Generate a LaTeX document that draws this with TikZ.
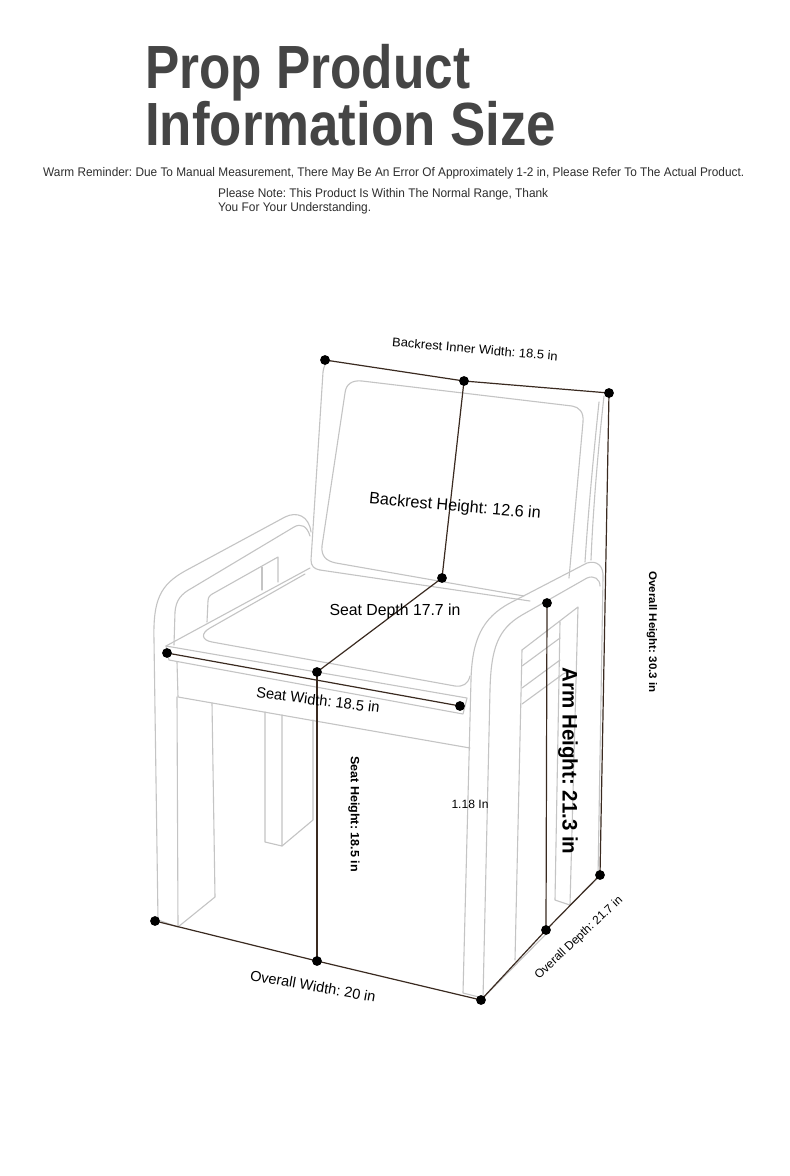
\documentclass[tikz,border=0pt]{standalone}
\usepackage{fontspec}
\setmainfont{Liberation Sans}
\usepackage{graphicx}
\frenchspacing
\definecolor{chgray}{HTML}{C4C4C4}
\definecolor{dimc}{HTML}{3A2A20}
\definecolor{titlec}{HTML}{454545}
\definecolor{subc}{HTML}{2E2E2E}
\newcommand{\fitw}[3]{{\fontsize{#2}{#2}\selectfont\resizebox{#1}{\height}{#3}}}
\tikzset{
  ch/.style={draw=chgray, line width=1.1pt, line join=round, line cap=round},
  dimline/.style={draw=dimc, line width=1.2pt},
  lbl/.style={inner sep=0pt, text=black},
}
\begin{document}
\begin{tikzpicture}[x=1pt,y=-1pt]
\useasboundingbox[fill=white] (0,0) rectangle (790,1176);

% ---------- title ----------
\node[anchor=base west, inner sep=0pt, text=titlec] (t1) at (145,88) {\fitw{325pt}{61pt}{\bfseries Prop Product}};
\node[anchor=base west, inner sep=0pt, text=titlec] (t2) at (145,145) {\fitw{411pt}{61pt}{\bfseries Information Size}};
\node[anchor=base west, inner sep=0pt, text=subc] (s1) at (43,176) {\fitw{701pt}{12.5pt}{Warm Reminder: Due To Manual Measurement, There May Be An Error Of Approximately 1-2 in, Please Refer To The Actual Product.}};
\node[anchor=base west, inner sep=0pt, text=subc] (s2) at (218,197.5) {\fitw{330pt}{12.5pt}{Please Note: This Product Is Within The Normal Range, Thank}};
\node[anchor=base west, inner sep=0pt, text=subc] (s3) at (218,211.5) {\fitw{153pt}{12.5pt}{You For Your Understanding.}};

% ---------- chair (gray outlines) ----------
% backrest outer frame
\draw[ch] (331,361) .. controls (325,362) and (324,366) .. (323,372) -- (311,560) .. controls (311,566) and (314,569) .. (320,570);
% backrest cushion
\draw[ch] (569,578) -- (583,422) .. controls (584,412) and (579,407) .. (572,406) -- (362,381) .. controls (352,380) and (346,384) .. (345,393) -- (322,546) .. controls (321,556) and (326,561) .. (336,563) -- (524,596);
% backrest right side thickness
\draw[ch] (604,396) .. controls (598,450) and (593,510) .. (591,560);
\draw[ch] (599,402) .. controls (593,460) and (588,515) .. (585,562);
% seat back edge
\draw[ch] (320,570) -- (530,601);
% left arm outer
\draw[ch] (158,920) -- (154,640) .. controls (153,600) and (160,585) .. (185,571) -- (285,517) .. controls (297,511) and (309,516) .. (311,532);
% left arm inner line
\draw[ch] (174,645) -- (175,612) .. controls (176,600) and (181,594) .. (192,588) -- (294,527) .. controls (301,523) and (307,526) .. (310,536);
% left arm inside face and slot
\draw[ch] (207,622) -- (208,601) .. controls (208,597) and (210,595) .. (214,593) -- (278,557) -- (278,582);
\draw[ch] (262,567) -- (262,590);
% seat board
\draw[ch] (166,646) -- (310,568);
\draw[ch] (166,646) -- (467,698) -- (463,714) -- (169,660) -- cycle;
% seat cushion
\draw[ch] (305,574) -- (210,628) .. controls (201,633) and (201,640) .. (212,642) -- (455,686) .. controls (463,687) and (468,684) .. (470,676);
% apron
\draw[ch] (177,662) -- (178,697) -- (470,748);
% left front leg
\draw[ch] (177,697) -- (178,927) -- (158,920);
\draw[ch] (178,927) -- (215,897) -- (212,703);
% left back leg
\draw[ch] (265,712) -- (265,842) -- (282,846) -- (282,715);
\draw[ch] (282,846) -- (313,820) -- (313,720);
% right arm panel outer / inner
\draw[ch] (598,878) -- (603,578) .. controls (604,566) and (597,560) .. (587,563) -- (510,603) .. controls (482,618) and (472,640) .. (471,680) -- (463,993) -- (483,998);
\draw[ch] (600,586) .. controls (600,579) and (594,575) .. (587,578) -- (522,615) .. controls (498,629) and (491,648) .. (490,690) -- (483,998);
% right arm opening and slats
\draw[ch] (522,650) -- (578,607) -- (570,905) -- (555,900) -- (560,622);
\draw[ch] (522,650) -- (515,960);
\draw[ch] (570,905) -- (598,878);
\draw[ch] (522,666) -- (560,638);
\draw[ch] (522,688) -- (560,660);
\draw[ch] (522,704) -- (563,674) .. controls (568,671) and (572,672) .. (575,676);
\draw[ch] (483,998) -- (546,934);

% ---------- dimension points ----------
\coordinate (A) at (325,360);
\coordinate (B) at (464,381);
\coordinate (C) at (609,393);
\coordinate (D) at (442,578);
\coordinate (E) at (167,653);
\coordinate (F) at (317,672);
\coordinate (G) at (460,706);
\coordinate (H) at (547,603);
\coordinate (I) at (546,930);
\coordinate (J) at (600,875);
\coordinate (K) at (155,921);
\coordinate (L) at (317,961);
\coordinate (M) at (481,1000);

\draw[dimline] (A) -- (B) -- (C);
\draw[dimline] (B) -- (D);
\draw[dimline] (D) -- (F);
\draw[dimline] (E) -- (G);
\draw[dimline] (F) -- (L);
\draw[dimline] (C) -- (J);
\draw[dimline] (H) -- (I);
\draw[dimline] (K) -- (L) -- (M);
\draw[dimline] (M) -- (I) -- (J);

\foreach \p in {A,B,C,D,E,F,G,H,I,J,K,L,M} \fill[black] (\p) circle (4.9pt);

% ---------- labels ----------
\node[lbl, rotate=-5] (l1) at (475,349) {\fitw{166pt}{12.5pt}{Backrest Inner Width: 18.5 in}};
\node[lbl, rotate=-5] (l2) at (455,507) {\fitw{172pt}{16.5pt}{Backrest Height: 12.6 in}};
\node[lbl] (l3) at (395,611) {\fitw{131pt}{16pt}{Seat Depth 17.7 in}};
\node[lbl, rotate=-7] (l4) at (318,700) {\fitw{124pt}{15pt}{Seat Width: 18.5 in}};
\node[lbl, rotate=-90] (l5) at (354,814) {\fitw{116pt}{12pt}{\bfseries Seat Height: 18.5 in}};
\node[lbl] (l6) at (470,804) {\fitw{37pt}{12pt}{1.18 In}};
\node[lbl, rotate=-90] (l7) at (568,761) {\fitw{187pt}{21pt}{\bfseries Arm Height: 21.3 in}};
\node[lbl, rotate=-90] (l8) at (652,632) {\fitw{121pt}{11pt}{\bfseries Overall Height: 30.3 in}};
\node[lbl, rotate=-10] (l9) at (313,986) {\fitw{127pt}{14.5pt}{Overall Width: 20 in}};
\node[lbl, rotate=43] (l10) at (579,938) {\fitw{115pt}{12pt}{Overall Depth: 21.7 in}};
\end{tikzpicture}
\end{document}
